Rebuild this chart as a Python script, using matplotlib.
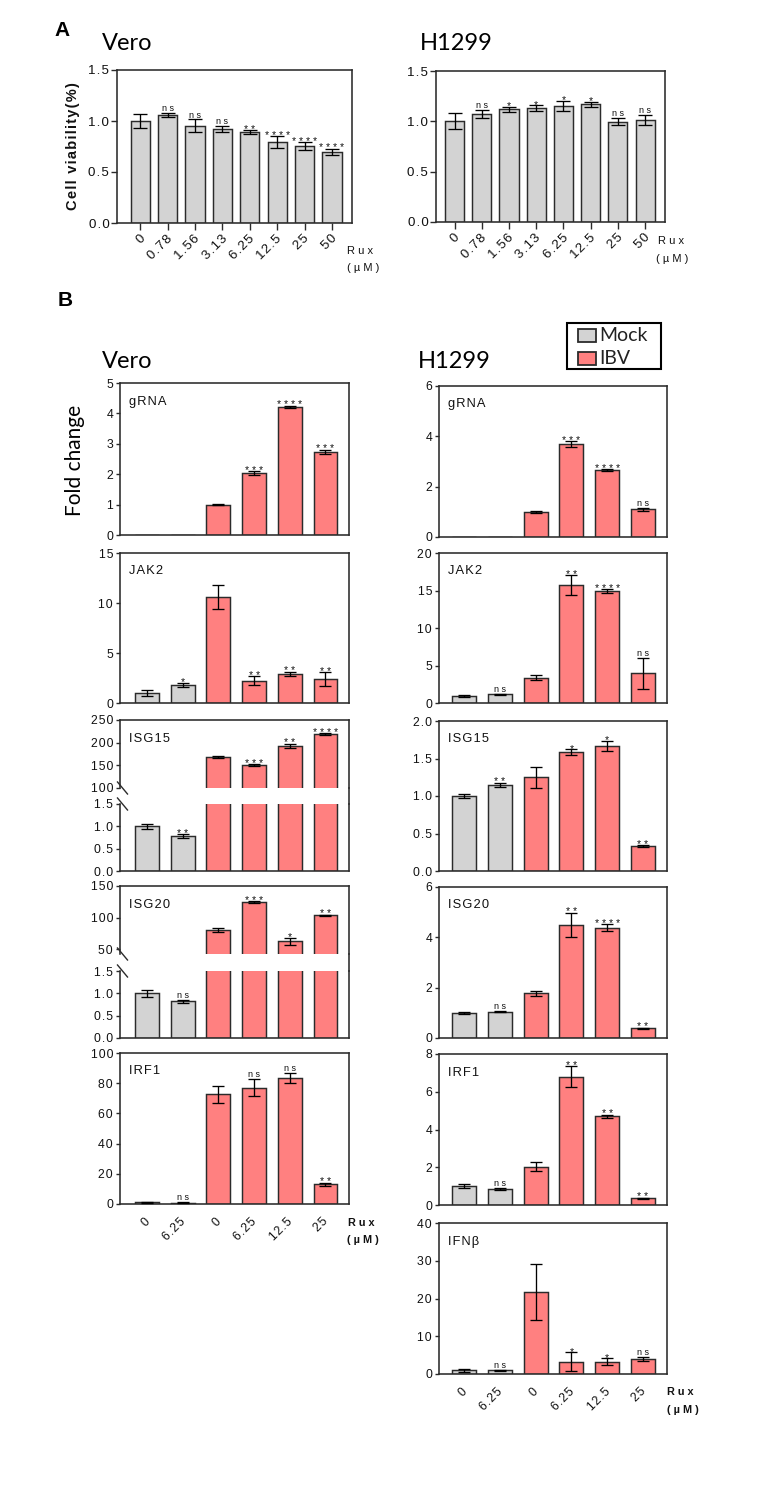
import matplotlib
matplotlib.use("Agg")
import matplotlib.pyplot as plt
import matplotlib.transforms as mtrans
from matplotlib.patches import Rectangle
from matplotlib.lines import Line2D
import numpy as np

# ---------------- data ----------------
doses_A = ["0", "0.78", "1.56", "3.13", "6.25", "12.5", "25", "50"]
vero_A = [1.00, 1.055, 0.955, 0.925, 0.89, 0.795, 0.755, 0.70]
vero_A_err = [0.065, 0.02, 0.06, 0.03, 0.02, 0.055, 0.035, 0.03]
vero_A_sig = ["", "ns", "ns", "ns", "**", "****", "****", "****"]
h1299_A = [1.00, 1.07, 1.12, 1.13, 1.155, 1.17, 0.995, 1.015]
h1299_A_err = [0.08, 0.04, 0.025, 0.03, 0.05, 0.025, 0.035, 0.05]
h1299_A_sig = ["", "ns", "*", "*", "*", "*", "ns", "ns"]

doses_B = ["0", "6.25", "0", "6.25", "12.5", "25"]
groups_B = ["Mock", "Mock", "IBV", "IBV", "IBV", "IBV"]

vero_gRNA = [0, 0, 1.0, 2.03, 4.22, 2.73]
vero_gRNA_err = [0, 0, 0.01, 0.06, 0.03, 0.07]
vero_gRNA_sig = ["", "", "", "***", "****", "***"]
vero_JAK2 = [1.05, 1.8, 10.65, 2.25, 2.95, 2.4]
vero_JAK2_err = [0.3, 0.2, 1.2, 0.43, 0.2, 0.7]
vero_JAK2_sig = ["", "*", "", "**", "**", "**"]
vero_ISG15 = [1.0, 0.78, 168, 151, 193, 219]
vero_ISG15_err = [0.05, 0.04, 1.5, 1.5, 5, 2]
vero_ISG15_sig = ["", "**", "", "***", "**", "****"]
vero_ISG20 = [1.0, 0.82, 80, 124.5, 62, 103.5]
vero_ISG20_err = [0.08, 0.04, 3, 1.5, 6, 1]
vero_ISG20_sig = ["", "ns", "", "***", "*", "**"]
vero_IRF1 = [1.0, 0.8, 72.7, 77, 83.4, 13]
vero_IRF1_err = [0.4, 0.3, 5.7, 5.5, 3.5, 1]
vero_IRF1_sig = ["", "ns", "", "ns", "ns", "**"]

h_gRNA = [0, 0, 1.0, 3.68, 2.65, 1.1]
h_gRNA_err = [0, 0, 0.03, 0.12, 0.04, 0.05]
h_gRNA_sig = ["", "", "", "***", "****", "ns"]
h_JAK2 = [0.97, 1.15, 3.4, 15.75, 14.9, 3.95]
h_JAK2_err = [0.12, 0.05, 0.3, 1.3, 0.25, 2.1]
h_JAK2_sig = ["", "ns", "", "**", "****", "ns"]
h_ISG15 = [1.0, 1.15, 1.25, 1.585, 1.67, 0.335]
h_ISG15_err = [0.03, 0.03, 0.14, 0.04, 0.07, 0.01]
h_ISG15_sig = ["", "**", "", "*", "*", "**"]
h_ISG20 = [1.0, 1.05, 1.77, 4.5, 4.39, 0.38]
h_ISG20_err = [0.03, 0.02, 0.1, 0.47, 0.12, 0.02]
h_ISG20_sig = ["", "ns", "", "**", "****", "**"]
h_IRF1 = [1.0, 0.85, 2.03, 6.79, 4.71, 0.35]
h_IRF1_err = [0.1, 0.05, 0.25, 0.55, 0.08, 0.03]
h_IRF1_sig = ["", "ns", "", "**", "**", "**"]
h_IFNb = [1.0, 0.95, 21.8, 3.3, 3.3, 3.9]
h_IFNb_err = [0.4, 0.2, 7.4, 2.4, 0.9, 0.5]
h_IFNb_sig = ["", "ns", "", "*", "*", "ns"]

# ---------------- style ----------------
W, H = 757, 1508
plt.rcParams['font.family'] = ['Liberation Sans', 'DejaVu Sans']
fig = plt.figure(figsize=(W / 100, H / 100), dpi=100)

CAL = ['Lato', 'DejaVu Sans']
GRAY = '#D3D3D3'
RED = '#FF8080'
EDGE = '#2b2b2b'
SPINE = '#2b2b2b'
TXT = '#111111'
HS = '\u200a'


def sp(s):
    return "  ".join(" ".join(w) for w in s.split(" "))


def hs(s):
    return HS.join(s)


def px_ax(l, t, r, b):
    return fig.add_axes([l / W, 1 - b / H, (r - l) / W, (b - t) / H])


def style(ax):
    for s in ax.spines.values():
        s.set_color(SPINE)
        s.set_linewidth(1.15)


def draw_bars(ax, vals, errs, colors, width, capsize):
    x = np.arange(len(vals))
    ax.bar(x, vals, width=width, color=colors, edgecolor=EDGE, linewidth=1.05, zorder=2)
    for xi, v, e in zip(x, vals, errs):
        if v > 0 and e > 0:
            ax.errorbar([xi], [v], yerr=[e], fmt='none', ecolor='black',
                        elinewidth=0.95, capsize=capsize, capthick=0.95, zorder=3)


def draw_sig(ax, vals, errs, sigs, idx):
    for i in idx:
        s = sigs[i]
        if not s:
            continue
        top = vals[i] + errs[i]
        if s == 'ns':
            ax.annotate('n s', (i, top), xytext=(0, 1.4), textcoords='offset points',
                        ha='center', va='baseline', fontsize=6.5, color=TXT,
                        annotation_clip=False)
        else:
            ax.annotate(' '.join(s), (i, top), xytext=(0, -1.8), textcoords='offset points',
                        ha='center', va='baseline', fontsize=7.5, color=TXT,
                        annotation_clip=False)


# overlay for free text (drawn on top)
ov = fig.add_axes([0, 0, 1, 1])
ov.set_xlim(0, W)
ov.set_ylim(H, 0)
ov.axis('off')
ov.set_zorder(10)

# ---------------- Panel A ----------------
colA = [GRAY] * len(doses_A)


def panel_A(box, xl, vals, errs, sigs):
    ax = px_ax(*box)
    style(ax)
    draw_bars(ax, vals, errs, colA, 0.70, 5)
    draw_sig(ax, vals, errs, sigs, range(len(vals)))
    ax.set_xlim(*xl)
    ax.set_ylim(0, 1.5)
    ax.set_yticks([0, 0.5, 1.0, 1.5], [hs(t) for t in ["0.0", "0.5", "1.0", "1.5"]])
    ax.set_xticks(np.arange(len(doses_A)), [hs(d) for d in doses_A],
                  rotation=45, ha='right', va='center', rotation_mode='anchor')
    ax.tick_params(axis='y', direction='out', length=4, width=1.0, pad=1.5,
                   labelsize=9.6, colors=SPINE, labelcolor=TXT)
    ax.tick_params(axis='x', direction='out', length=5, width=1.0, pad=5,
                   labelsize=9.6, colors=SPINE, labelcolor=TXT)
    off = mtrans.ScaledTranslation(3 / 100, 0, fig.dpi_scale_trans)
    for lab in ax.get_xticklabels():
        lab.set_transform(lab.get_transform() + off)
    return ax


axA1 = panel_A((117, 70, 352, 223), (-0.85, 7.73), vero_A, vero_A_err, vero_A_sig)
axA1.set_ylabel(hs("Cell viability(%)"), fontsize=10.5, fontweight='bold', labelpad=6, color=TXT)
axA2 = panel_A((436, 71, 665, 222), (-0.68, 7.73), h1299_A, h1299_A_err, h1299_A_sig)

ov.text(62, 31, "A", fontsize=15, fontweight='bold', ha='center', va='center', color='black')
ov.text(102, 43, "Vero", family=CAL, fontsize=17, ha='left', va='center', color='black')
ov.text(420, 44, "H1299", family=CAL, fontsize=17, ha='left', va='center', color='black')
ov.text(347, 251, sp("Rux"), fontsize=8, ha='left', va='center', color=TXT)
ov.text(347, 268, sp("(µM)"), fontsize=8, ha='left', va='center', color=TXT)
ov.text(658, 241, sp("Rux"), fontsize=8, ha='left', va='center', color=TXT)
ov.text(656, 259, sp("(µM)"), fontsize=8, ha='left', va='center', color=TXT)

# ---------------- Panel B ----------------
colB = [GRAY if g == "Mock" else RED for g in groups_B]
COLS = {"vero": (120, 349, (-0.76, 5.66)), "h": (439, 667, (-0.70, 5.67))}
BW = 0.67
CAP = 4.2


def yfmt(ax, ticks, labels):
    ax.set_yticks(ticks, [hs(t) for t in labels])
    ax.tick_params(axis='y', direction='out', length=3, width=1.0, pad=2,
                   labelsize=8.8, colors=SPINE, labelcolor=TXT)


def xfmt(ax, bottom):
    if bottom:
        ax.set_xticks(np.arange(len(doses_B)), [hs(d) for d in doses_B],
                      rotation=45, ha='right', va='center', rotation_mode='anchor')
        ax.tick_params(axis='x', length=0, pad=11.5, labelsize=8.8, labelcolor=TXT)
        off = mtrans.ScaledTranslation(1 / 100, 0, fig.dpi_scale_trans)
        for lab in ax.get_xticklabels():
            lab.set_transform(lab.get_transform() + off)
    else:
        ax.set_xticks([])


def gene_label(l, t, name):
    ov.text(l + 9, t + 18.5, hs(name), fontsize=9.3, ha='left', va='center', color=TXT)


def panel_B(col, name, vals, errs, sigs, t, b, ylim, ticks, labels, bottom=False):
    l, r, xl = COLS[col]
    ax = px_ax(l, t, r, b)
    style(ax)
    draw_bars(ax, vals, errs, colB, BW, CAP)
    draw_sig(ax, vals, errs, sigs, range(len(vals)))
    ax.set_xlim(*xl)
    ax.set_ylim(*ylim)
    yfmt(ax, ticks, labels)
    xfmt(ax, bottom)
    gene_label(l, t, name)
    return ax


def panel_B_broken(col, name, vals, errs, sigs, t1, b1, ylim1, ticks1, labels1,
                   t2, b2, ylim2, ticks2, labels2):
    l, r, xl = COLS[col]
    up = px_ax(l, t1, r, b1)
    lo = px_ax(l, t2, r, b2)
    for ax in (up, lo):
        style(ax)
        draw_bars(ax, vals, errs, colB, BW, CAP)
        ax.set_xlim(*xl)
        xfmt(ax, False)
    up.spines['bottom'].set_visible(False)
    lo.spines['top'].set_visible(False)
    up.set_ylim(*ylim1)
    lo.set_ylim(*ylim2)
    yfmt(up, ticks1, labels1)
    yfmt(lo, ticks2, labels2)
    draw_sig(up, vals, errs, sigs, [2, 3, 4, 5])
    draw_sig(lo, vals, errs, sigs, [0, 1])
    # continuous right spine across the break
    ov.add_line(Line2D([r, r], [b1, t2], color=SPINE, lw=1.15))
    # break marks on left spine
    for y in (b1, t2):
        ov.add_line(Line2D([l - 2.5, l + 7.5], [y - 6, y + 6], color=SPINE, lw=1.0))
    gene_label(l, t1, name)
    return up, lo


# Vero column
panel_B("vero", "gRNA", vero_gRNA, vero_gRNA_err, vero_gRNA_sig, 383, 535, (0, 5),
        [0, 1, 2, 3, 4, 5], ["0", "1", "2", "3", "4", "5"])
panel_B("vero", "JAK2", vero_JAK2, vero_JAK2_err, vero_JAK2_sig, 553, 703, (0, 15),
        [0, 5, 10, 15], ["0", "5", "10", "15"])
panel_B_broken("vero", "ISG15", vero_ISG15, vero_ISG15_err, vero_ISG15_sig,
               720, 788, (100, 250), [100, 150, 200, 250], ["100", "150", "200", "250"],
               804, 871, (0, 1.5), [0, 0.5, 1.0, 1.5], ["0.0", "0.5", "1.0", "1.5"])
panel_B_broken("vero", "ISG20", vero_ISG20, vero_ISG20_err, vero_ISG20_sig,
               886, 954, (42.1, 150), [50, 100, 150], ["50", "100", "150"],
               971, 1038, (0, 1.5), [0, 0.5, 1.0, 1.5], ["0.0", "0.5", "1.0", "1.5"])
panel_B("vero", "IRF1", vero_IRF1, vero_IRF1_err, vero_IRF1_sig, 1053, 1204, (0, 100),
        [0, 20, 40, 60, 80, 100], ["0", "20", "40", "60", "80", "100"], bottom=True)

# H1299 column
panel_B("h", "gRNA", h_gRNA, h_gRNA_err, h_gRNA_sig, 386, 537, (0, 6),
        [0, 2, 4, 6], ["0", "2", "4", "6"])
panel_B("h", "JAK2", h_JAK2, h_JAK2_err, h_JAK2_sig, 553, 703, (0, 20),
        [0, 5, 10, 15, 20], ["0", "5", "10", "15", "20"])
panel_B("h", "ISG15", h_ISG15, h_ISG15_err, h_ISG15_sig, 721, 871, (0, 2.0),
        [0, 0.5, 1.0, 1.5, 2.0], ["0.0", "0.5", "1.0", "1.5", "2.0"])
panel_B("h", "ISG20", h_ISG20, h_ISG20_err, h_ISG20_sig, 887, 1038, (0, 6),
        [0, 2, 4, 6], ["0", "2", "4", "6"])
panel_B("h", "IRF1", h_IRF1, h_IRF1_err, h_IRF1_sig, 1054, 1205, (0, 8),
        [0, 2, 4, 6, 8], ["0", "2", "4", "6", "8"])
panel_B("h", "IFNβ", h_IFNb, h_IFNb_err, h_IFNb_sig, 1223, 1374, (0, 40),
        [0, 10, 20, 30, 40], ["0", "10", "20", "30", "40"], bottom=True)

# texts for panel B
ov.text(65, 300, "B", fontsize=15, fontweight='bold', ha='center', va='center', color='black')
ov.text(102, 361, "Vero", family=CAL, fontsize=17, ha='left', va='center', color='black')
ov.text(418, 362, "H1299", family=CAL, fontsize=17, ha='left', va='center', color='black')
ov.text(75, 460, "Fold change", family=CAL, fontsize=15, rotation=90, ha='center', va='center',
        color='black')
ov.text(348, 1223, sp("Rux"), fontsize=7.8, fontweight='bold', ha='left', va='center', color=TXT)
ov.text(347, 1240, sp("(µM)"), fontsize=7.8, fontweight='bold', ha='left', va='center', color=TXT)
ov.text(667, 1392, sp("Rux"), fontsize=7.8, fontweight='bold', ha='left', va='center', color=TXT)
ov.text(667, 1410, sp("(µM)"), fontsize=7.8, fontweight='bold', ha='left', va='center', color=TXT)

# legend
ov.add_patch(Rectangle((567, 323), 94, 46, fill=False, edgecolor='black', lw=1.5))
ov.add_patch(Rectangle((578, 329), 18, 12.5, facecolor=GRAY, edgecolor=EDGE, lw=1.3))
ov.add_patch(Rectangle((578, 352), 18, 12.5, facecolor=RED, edgecolor=EDGE, lw=1.3))
ov.text(599, 335.5, "Mock", family=CAL, fontsize=14, ha='left', va='center', color='#222')
ov.text(599, 358, "IBV", family=CAL, fontsize=14, ha='left', va='center', color='#222')

fig.savefig("out.png", dpi=100)
